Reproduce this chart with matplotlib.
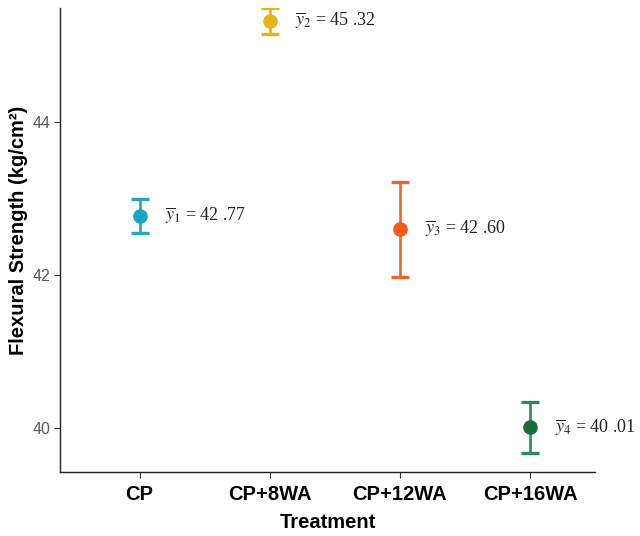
import matplotlib
matplotlib.use("Agg")
import matplotlib.pyplot as plt

treatments = ["CP", "CP+8WA", "CP+12WA", "CP+16WA"]
means = [42.77, 45.32, 42.60, 40.01]
errors = [0.22, 0.17, 0.62, 0.33]
labels = [r"$\overline{y}_1$ = 42 .77", r"$\overline{y}_2$ = 45 .32",
          r"$\overline{y}_3$ = 42 .60", r"$\overline{y}_4$ = 40 .01"]
point_colors = ["#1AA6C2", "#E6B414", "#F55A1A", "#1B6B3A"]
line_colors = ["#2BA5BE", "#E6B414", "#E8672E", "#2E8B57"]
cap_colors = ["#5F86AD", "#E6B414", "#D32A2A", "#2E8B57"]

plt.rcParams["mathtext.fontset"] = "stix"
plt.rcParams["font.family"] = ["Liberation Sans", "DejaVu Sans"]

fig = plt.figure(figsize=(6.4, 5.36), dpi=100)
ax = fig.add_axes([0.094, 0.119, 0.836, 0.866])

xs = list(range(1, len(treatments) + 1))
for x, m, e, pc, lc, cc, lab in zip(xs, means, errors, point_colors, line_colors, cap_colors, labels):
    eb = ax.errorbar([x], [m], yerr=[e], fmt="none", ecolor=lc, elinewidth=1.9,
                     capsize=6.5, capthick=2.4, zorder=2)
    for cl in eb[1]:
        cl.set_color(cc)
    ax.plot([x], [m], "o", color=pc, markersize=9.5, zorder=3)
    ax.annotate(lab, (x, m), xytext=(18, 0), textcoords="offset points",
                ha="left", va="center", fontsize=13, color="#222222",
                family=["Liberation Serif", "DejaVu Serif"])

ax.set_xlim(0.39, 4.5)
ax.set_ylim(39.425, 45.49)
ax.set_xticks(xs)
ax.set_xticklabels(treatments, fontsize=14.5, fontweight="bold", color="black")
ax.set_yticks([40, 42, 44])
ax.tick_params(axis="y", labelsize=11.5, labelcolor="#5A5A5A", color="#333333", length=4, pad=3)
ax.tick_params(axis="x", color="#333333", length=4, pad=5)
for s in ["top", "right"]:
    ax.spines[s].set_visible(False)
for s in ["left", "bottom"]:
    ax.spines[s].set_color("#222222")
    ax.spines[s].set_linewidth(1.0)

ax.set_xlabel("Treatment", fontsize=14.5, fontweight="bold", labelpad=7)
ax.set_ylabel("Flexural Strength (kg/cm²)", fontsize=14.5, fontweight="bold", labelpad=4)
ax.yaxis.set_label_coords(-0.060, 0.521)

fig.savefig("out.png", dpi=100)
